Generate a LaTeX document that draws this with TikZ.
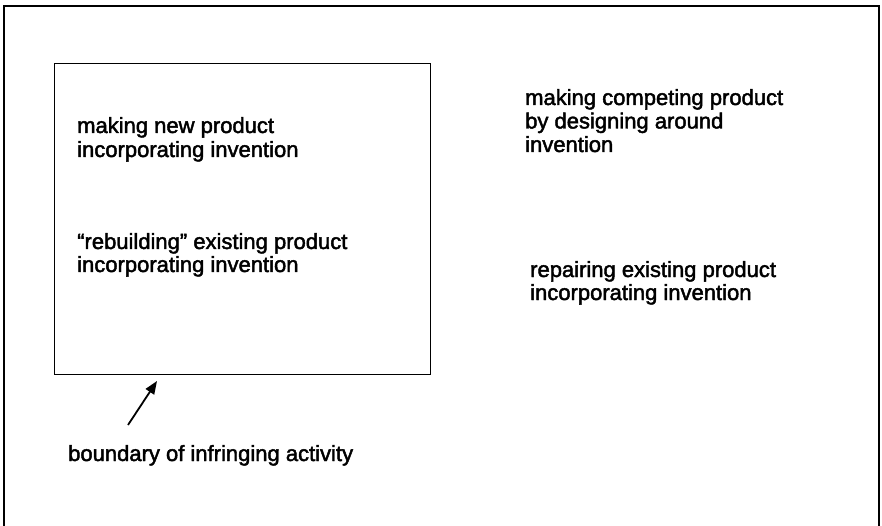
\documentclass[tikz,border=0pt]{standalone}
\usepackage{fontspec}
\setmainfont{Liberation Sans}
\newfontfamily\heavysans[FakeBold=2]{Liberation Sans}
\usetikzlibrary{arrows.meta}
\begin{document}
\begin{tikzpicture}[x=1pt,y=-1pt,
  lbl/.style={anchor=base west,inner sep=0pt,font=\heavysans\fontsize{22}{24}\selectfont},
  frameline/.style={line width=1.8pt,line cap=rect},
  boxline/.style={line width=1.4pt},
  pointer/.style={line width=1.8pt,-{Triangle[length=13pt,width=10pt]}}]
\useasboundingbox (0,0) rectangle (882,526);
% outer frame (open at the bottom)
\coordinate (ofbl) at (4,526);
\coordinate (oftl) at (4,6);
\coordinate (oftr) at (879,6);
\coordinate (ofbr) at (879,526);
\draw[frameline] (ofbl) -- (oftl) -- (oftr) -- (ofbr);
% boundary box
\node[draw,boxline,inner sep=0pt,minimum width=376pt,minimum height=311pt,anchor=north west] (box) at (53.5,63) {};
% left texts
\node[lbl] (l1a) at (77,133) {making new product};
\node[lbl] (l1b) at (77,157) {incorporating invention};
\node[lbl] (l2a) at (77,249) {\char"201C rebuilding\char"201D\ existing product};
\node[lbl] (l2b) at (77,272) {incorporating invention};
% right texts
\node[lbl] (r1a) at (525,105) {making competing product};
\node[lbl] (r1b) at (525,128.5) {by designing around};
\node[lbl] (r1c) at (525,152) {invention};
\node[lbl] (r2a) at (530,277) {repairing existing product};
\node[lbl] (r2b) at (530,300) {incorporating invention};
% label and pointer
\node[lbl] (bnd) at (68,461) {boundary of infringing activity};
\coordinate (ptail) at (128,425);
\coordinate (ptip) at (157,381);
\draw[pointer] (ptail) -- (ptip);
\end{tikzpicture}
\end{document}
